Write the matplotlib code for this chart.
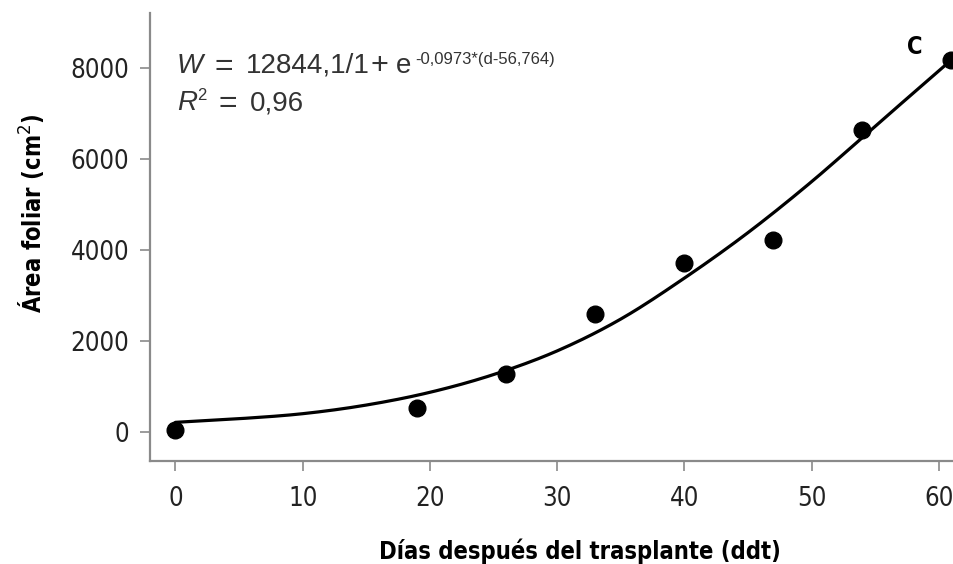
import matplotlib
matplotlib.use("Agg")
import numpy as np
import matplotlib.pyplot as plt
from matplotlib.transforms import IdentityTransform

# Observed leaf area (cm2) by days after transplant
dias = [0, 19, 26, 33, 40, 47, 54, 61]
area = [50, 530, 1280, 2590, 3710, 4220, 6630, 8170]

# Fitted growth curve, sampled every 5 days
curva_dias = [0, 5, 10, 15, 20, 25, 30, 35, 40, 45, 50, 55, 61]
curva_area = [210, 290, 400, 590, 870, 1260, 1780, 2480, 3380, 4380, 5500, 6720, 8180]

xticks = [0, 10, 20, 30, 40, 50, 60]
yticks = [0, 2000, 4000, 6000, 8000]

W_PX, H_PX = 954, 564
plt.rcParams['font.family'] = ['DejaVu Sans']


def catmull_rom(xs, ys, n=20):
    """Smooth path through the sampled curve points for drawing."""
    px = np.array(xs, float)
    py = np.array(ys, float)
    px = np.concatenate([[2 * px[0] - px[1]], px, [2 * px[-1] - px[-2]]])
    py = np.concatenate([[2 * py[0] - py[1]], py, [2 * py[-1] - py[-2]]])
    out_x, out_y = [], []
    t = np.linspace(0, 1, n, endpoint=False)
    for i in range(1, len(px) - 2):
        for arr, out in ((px, out_x), (py, out_y)):
            p0, p1, p2, p3 = arr[i - 1], arr[i], arr[i + 1], arr[i + 2]
            out.extend(0.5 * ((2 * p1) + (-p0 + p2) * t
                              + (2 * p0 - 5 * p1 + 4 * p2 - p3) * t ** 2
                              + (-p0 + 3 * p1 - 3 * p2 + p3) * t ** 3))
    out_x.append(px[-2])
    out_y.append(py[-2])
    return out_x, out_y


fig = plt.figure(figsize=(W_PX / 100, H_PX / 100), dpi=100)
ax = fig.add_axes([150 / W_PX, 103 / H_PX, 804 / W_PX, 448 / H_PX])

sx, sy = catmull_rom(curva_dias, curva_area)
ax.plot(sx, sy, color='black', lw=2.3, solid_capstyle='round', zorder=2)
ax.plot(dias, area, 'o', color='black', ms=12, zorder=3, clip_on=False)

ax.set_xlim(-2.0, 61.2)
ax.set_ylim(-640, 9210)
ax.set_xticks(xticks)
ax.set_yticks(yticks)

spine_col = '#8a8a8a'
for s in ('top', 'right'):
    ax.spines[s].set_visible(False)
for s in ('left', 'bottom'):
    ax.spines[s].set_color(spine_col)
    ax.spines[s].set_linewidth(1.6)

ax.tick_params(axis='both', direction='out', length=7, width=1.2, color=spine_col,
               labelsize=18.5, labelcolor='#222222')
ax.tick_params(axis='y', pad=8)
ax.tick_params(axis='x', pad=11)
for lab in ax.get_xticklabels() + ax.get_yticklabels():
    lab.set_fontstretch('condensed')

ax.set_xlabel('Días después del trasplante (ddt)', fontsize=17, fontweight='bold',
              fontstretch='condensed')
ax.xaxis.set_label_coords((580 - 150) / 804, (461 - 538) / 448)
ax.set_ylabel('Área foliar (cm$^2$)', fontsize=17, fontweight='bold',
              fontstretch='condensed')
ax.yaxis.set_label_coords((31 - 150) / 804, (461 - 213) / 448)
ax.yaxis.label.set_va('center')

# Fitted equation, each piece placed at its pixel position
eq_col = '#333333'
eq_font = ['Liberation Sans', 'DejaVu Sans']


def put(x, baseline, s, size, style='normal'):
    fig.text(x, H_PX - baseline, s, transform=IdentityTransform(), fontsize=size,
             fontstyle=style, color=eq_col, va='baseline', family=eq_font)


put(177, 73, 'W', 20, 'italic')
put(214, 75, '=', 23)
put(246, 73, '12844,1/1', 20)
put(370, 74, '+', 22)
put(396, 73, 'e', 20)
put(415, 64, '-0,0973*(d-56,764)', 12)

put(177, 110, 'R', 20, 'italic')
put(197, 100, '2', 12)
put(219, 112, '=', 23)
put(250, 110, '0,96', 20)

fig.text(915 / W_PX, 1 - 47 / H_PX, 'C', fontsize=17, fontweight='bold',
         fontstretch='condensed', ha='center', va='center')

fig.savefig('out.png', dpi=100)
